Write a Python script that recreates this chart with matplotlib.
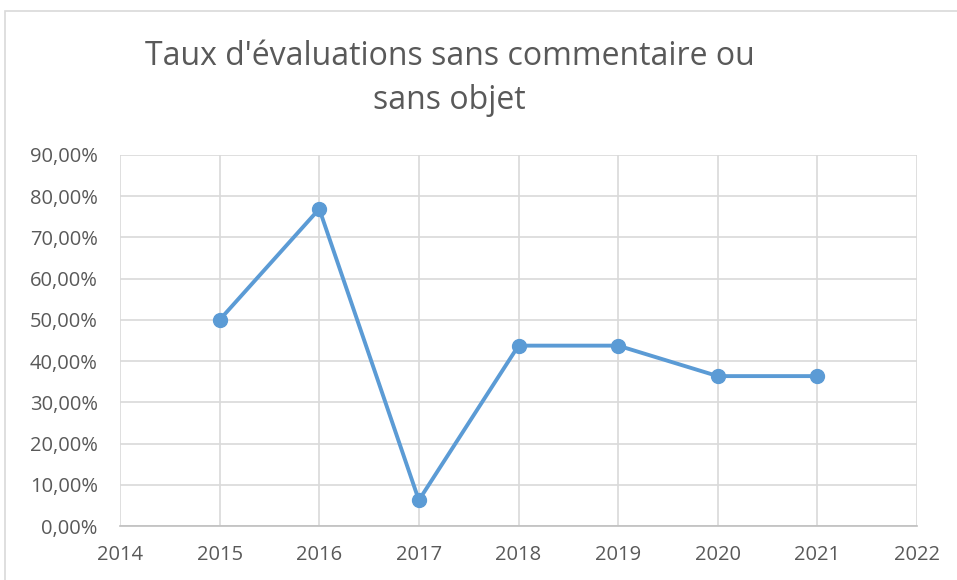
import matplotlib.pyplot as plt
from matplotlib.patches import Rectangle
from matplotlib.ticker import FuncFormatter, MultipleLocator

years = [2015, 2016, 2017, 2018, 2019, 2020, 2021]
taux = [0.50, 0.7692, 0.0625, 0.4375, 0.4375, 0.3636, 0.3636]

plt.rcParams['font.family'] = ['Open Sans', 'DejaVu Sans']

fig = plt.figure(figsize=(9.57, 5.8), dpi=100)
ax = fig.add_axes([0.1254, 0.0931, 0.8328, 0.6397])

# cadre du graphique
fig.patches.append(Rectangle((5 / 957, -0.1), 1.2, 1 - 11 / 580 + 0.1,
                             transform=fig.transFigure, fill=False,
                             edgecolor='#D9D9D9', linewidth=1.2))

ax.plot(years, taux, color='#5B9BD5', linewidth=2.8, marker='o',
        markersize=10, zorder=3)

ax.set_xlim(2014, 2022)
ax.set_ylim(0, 0.9)
ax.xaxis.set_major_locator(MultipleLocator(1))
ax.yaxis.set_major_locator(MultipleLocator(0.1))
ax.yaxis.set_major_formatter(FuncFormatter(lambda v, p: f"{v * 100:.2f}%".replace('.', ',')))

ax.grid(True, color='#D9D9D9', linewidth=1.2)
ax.set_axisbelow(True)
for s in ['top', 'right', 'left']:
    ax.spines[s].set_visible(False)
ax.spines['bottom'].set_color('#BFBFBF')
ax.spines['bottom'].set_linewidth(1.2)
ax.tick_params(length=0, labelsize=14.5, labelcolor='#595959')
ax.tick_params(axis='y', pad=16)
ax.tick_params(axis='x', pad=14)

fig.text(0.47, 0.865, "Taux d'évaluations sans commentaire ou\nsans objet",
         ha='center', va='center', fontsize=23, color='#595959',
         linespacing=1.45)

fig.savefig('out.png', dpi=100)
